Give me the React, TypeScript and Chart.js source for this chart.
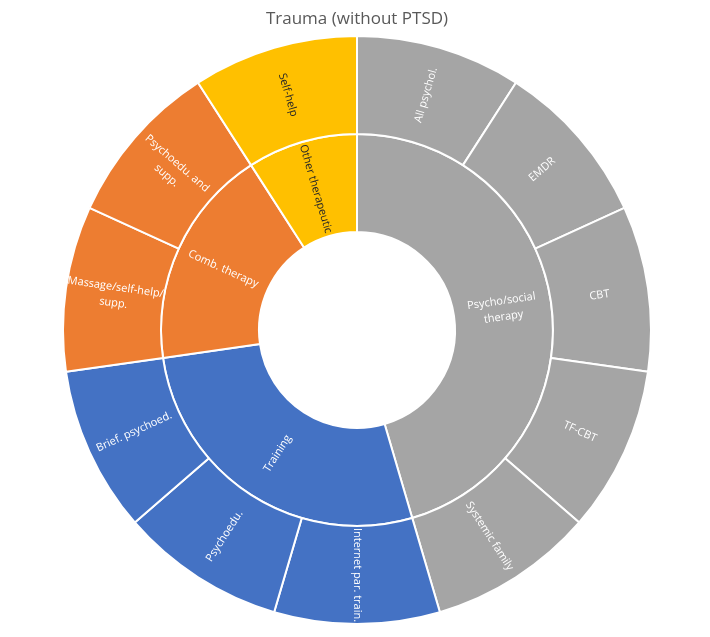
import React, { useEffect, useRef } from "react";
import { Chart, registerables } from "chart.js";

Chart.register(...registerables);

const chartTitle = "Trauma (without PTSD)";

const innerLabels: string[][] = [
  ["Psycho/social", "therapy"],
  ["Training"],
  ["Comb. therapy"],
  ["Other therapeutic"],
];
const innerValues = [5, 3, 2, 1];

const outerLabels: string[][] = [
  ["All psychol."],
  ["EMDR"],
  ["CBT"],
  ["TF-CBT"],
  ["Systemic family"],
  ["Internet par. train."],
  ["Psychoedu."],
  ["Brief. psychoed."],
  ["Massage/self-help/", "supp."],
  ["Psychoedu. and", "supp."],
  ["Self-help"],
];
const outerValues = [1, 1, 1, 1, 1, 1, 1, 1, 1, 1, 1];
const outerGroup = [0, 0, 0, 0, 0, 1, 1, 1, 2, 2, 3];

const groupColors = ["#A5A5A5", "#4472C4", "#ED7D31", "#FFC000"];
const groupTextColors = ["#FFFFFF", "#FFFFFF", "#FFFFFF", "#262626"];

const FONT = "'Open Sans', 'Noto Sans', sans-serif";

const labelPlugin = {
  id: "sunburstLabels",
  afterDatasetsDraw(chart: any) {
    const ctx = chart.ctx as CanvasRenderingContext2D;
    chart.data.datasets.forEach((ds: any, di: number) => {
      const meta = chart.getDatasetMeta(di);
      meta.data.forEach((arc: any, i: number) => {
        const p = arc.getProps(
          ["x", "y", "startAngle", "endAngle", "innerRadius", "outerRadius"],
          true
        );
        const a = (p.startAngle + p.endAngle) / 2;
        const r = (p.innerRadius + p.outerRadius) / 2;
        let rot = Math.atan2(Math.sin(a), Math.cos(a));
        if (rot > Math.PI / 2 + 1e-6) rot -= Math.PI;
        if (rot <= -Math.PI / 2 + 1e-6) rot += Math.PI;
        const lines: string[] = ds.textLines[i];
        const color: string = ds.textColors[i];
        ctx.save();
        ctx.beginPath();
        ctx.arc(p.x, p.y, p.outerRadius - 1, p.startAngle, p.endAngle);
        ctx.arc(p.x, p.y, p.innerRadius + 1, p.endAngle, p.startAngle, true);
        ctx.closePath();
        ctx.clip();
        ctx.translate(p.x + r * Math.cos(a), p.y + r * Math.sin(a));
        ctx.rotate(rot);
        ctx.fillStyle = color;
        ctx.font = `11px ${FONT}`;
        ctx.textAlign = "center";
        ctx.textBaseline = "middle";
        const lh = 16;
        const off = ((lines.length - 1) * lh) / 2;
        lines.forEach((ln, k) => ctx.fillText(ln, 0, k * lh - off));
        ctx.restore();
      });
    });
  },
};

const titlePlugin = {
  id: "customTitle",
  afterDraw(chart: any) {
    const ctx = chart.ctx as CanvasRenderingContext2D;
    ctx.save();
    ctx.fillStyle = "#595959";
    ctx.font = `17px ${FONT}`;
    ctx.textAlign = "center";
    ctx.textBaseline = "middle";
    ctx.fillText(chartTitle, 357, 19);
    ctx.restore();
  },
};

export default function App() {
  const ref = useRef<HTMLCanvasElement>(null);
  useEffect(() => {
    if (!ref.current) return;
    const chart = new Chart(ref.current, {
      type: "doughnut",
      data: {
        labels: outerLabels.map((l) => l.join(" ")),
        datasets: [
          {
            data: outerValues,
            backgroundColor: outerGroup.map((g) => groupColors[g]),
            borderColor: "#FFFFFF",
            borderWidth: 2,
            textLines: outerLabels,
            textColors: outerGroup.map((g) => groupTextColors[g]),
          } as any,
          {
            data: innerValues,
            backgroundColor: groupColors,
            borderColor: "#FFFFFF",
            borderWidth: 2,
            textLines: innerLabels,
            textColors: groupTextColors,
          } as any,
        ],
      },
      options: {
        animation: false,
        responsive: false,
        cutout: 98,
        layout: { padding: { left: 62, right: 58, top: 35, bottom: 12 } },
        plugins: {
          legend: { display: false },
          tooltip: { enabled: false },
          title: { display: false },
        },
      },
      plugins: [labelPlugin, titlePlugin],
    });
    return () => chart.destroy();
  }, []);
  return (
    <div
      style={{
        position: "fixed",
        left: 0,
        top: 0,
        width: 710,
        height: 637,
        background: "#FFFFFF",
      }}
    >
      <canvas ref={ref} width={710} height={637} />
    </div>
  );
}
